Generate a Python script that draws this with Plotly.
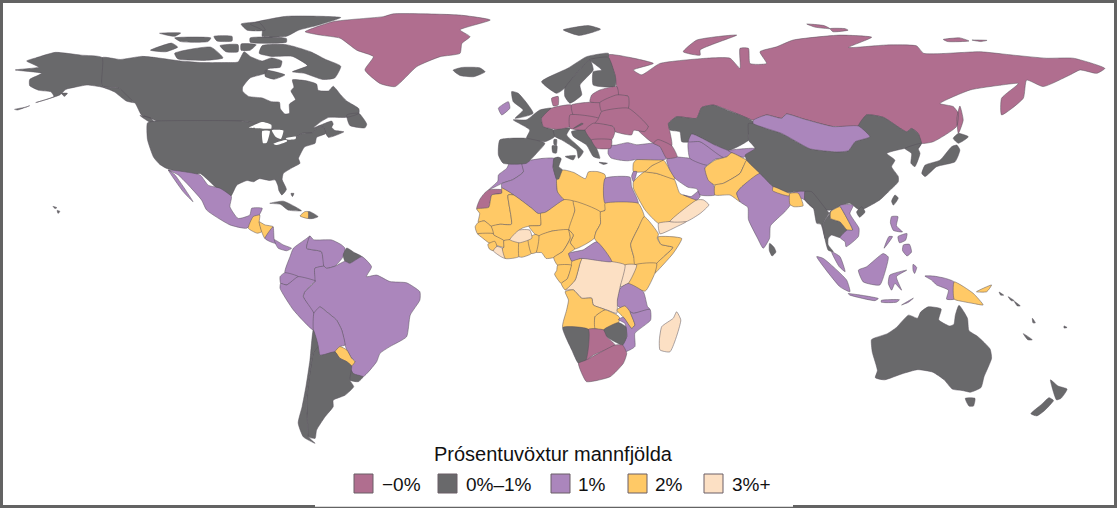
import plotly.graph_objects as go

# growth bins and their colours
BINS = ["−0%", "0%–1%", "1%", "2%", "3%+"]
BIN_COLORS = ["#B06E8F", "#69696B", "#AB86BC", "#FFC966", "#FCE0C4"]
LEGEND_TITLE = "Prósentuvöxtur mannfjölda"

# outlines are lon/lat, traced by hand (no topojson available offline)
RUSSIA = [
    [(26.6, 70.5), (34, 69.6), (41.5, 67.7), (34.9, 65.6), (37.6, 64), (43.7, 67.7), (59.2, 69.4), (66.9, 69.4), (70.2, 66.1),
     (70.2, 72.6), (73, 72.6), (73.5, 67.7), (79, 67.7), (76.8, 71.5), (82.3, 73.1), (87.8, 75.3), (103.3, 76.9), (113.8, 76.2),
     (106.1, 72.9), (118.8, 73.7), (128.7, 73.4), (131, 71), (149.7, 71.5), (160.7, 70.4), (171.7, 69.4), (180.6, 69.4), (191, 66.1),
     (188.3, 64.5), (182.8, 65.6), (179.5, 64), (170.6, 60.2), (165.1, 62.3), (164, 56.4), (156.8, 51), (156.8, 56.4), (162.4, 61.2),
     (156.8, 60.7), (146.4, 59.1), (136.4, 54.7), (140.8, 53.7), (142.5, 51.5), (141.9, 47.2), (134.2, 42.3), (130.3, 41.8),
     (129.2, 45), (127, 46.6), (125.4, 45.5), (117.7, 50.2), (112.1, 51), (109.4, 47.4), (101.1, 47.2), (91.2, 49.7), (85.6, 51.3),
     (84, 49.9), (79, 51), (74.6, 49.3), (70.2, 51), (61.4, 54.2), (57.5, 53.4), (55.8, 49.9), (49.2, 50.4), (46.5, 48.2), (47, 45.5),
     (47.6, 41), (41.5, 41.8), (38.7, 43.9), (36, 46.6), (39.8, 47.2), (33.2, 52.6), (33.2, 57), (29.9, 57.5), (29.4, 60),
     (29.1, 61.2), (28.8, 64)],
    [(51.4, 71.5), (55.9, 75.3), (69.1, 76.9), (57, 72.1), (57, 70.4)],
    [(92.3, 80.5), (98, 80), (100, 79), (95, 79.5)],
    [(100, 79), (105, 79), (106, 78.5), (101, 78)],
    [(137.5, 75.5), (143, 76), (146, 75), (139, 74.8)],
    [(147, 75.3), (152, 75.2), (150, 74.8)],
    [(143, 53.9), (144.1, 49.3), (142.5, 45), (142, 50)],
]
GREENLAND = [[(-73.8, 78), (-64.4, 81.3), (-47.9, 82.9), (-44.6, 83.8), (-22.5, 83.4), (-12.5, 81.8), (-22.5, 78.6), (-19.2, 76.4),
              (-21.9, 74.2), (-22.5, 71), (-29.1, 69.9), (-36.8, 66.7), (-44, 60.2), (-49, 61.2), (-54, 65.6), (-51.2, 69.9),
              (-56.7, 72), (-62.2, 75.9), (-68.8, 76.9)]]
CANADA = [
    [(-141, 69.6), (-135, 69), (-128, 70), (-124, 69.7), (-115, 68.5), (-108, 68), (-100, 68), (-96, 68.2), (-94, 71.5), (-92, 70),
     (-88, 68.5), (-85, 69.5), (-81.5, 68.5), (-82, 66.5), (-86, 66), (-87, 64.5), (-92, 63), (-94.5, 60), (-94.5, 58.7), (-92.5, 57),
     (-88, 56.5), (-85, 55.3), (-82.3, 55.1), (-82, 53), (-80.5, 51.3), (-79, 51.5), (-79, 54.5), (-77, 56), (-78.5, 58.8), (-77.5, 60),
     (-78, 62.4), (-73, 62), (-70, 61), (-69.5, 59), (-66, 58.8), (-64.5, 60.3), (-62, 57.5), (-60, 55.5), (-56, 53), (-56, 51.5),
     (-60, 50.2), (-66, 50.2), (-69, 48.5), (-71, 46.8), (-65, 49), (-64.5, 48), (-65, 47), (-64, 46), (-61, 45.5), (-66, 43.7),
     (-67, 45), (-67.8, 47), (-69.5, 47.3), (-71, 45.3), (-74.7, 45), (-76.5, 44), (-79, 43.3), (-83, 42), (-82.5, 45), (-84.5, 46.5),
     (-88.5, 48), (-95, 49), (-123, 49), (-125, 50), (-128, 51), (-130, 54.7), (-133, 57), (-135.5, 59.7), (-141, 60.3)],
    [(-60, 51), (-56, 51.5), (-53.4, 48), (-54, 46.8), (-59, 47.6)],
    [(-128.5, 50.8), (-125, 50), (-123.5, 48.4), (-125.5, 48.8)],
    [(-88, 73.5), (-80, 73.8), (-72, 71.5), (-67, 69), (-62, 66.8), (-64, 63), (-68, 62.5), (-74, 64.5), (-78, 65), (-73, 67),
     (-78, 70), (-85, 70), (-89, 71)],
    [(-117, 71), (-105, 73), (-101, 69.5), (-107, 68.7), (-116, 69.2)],
    [(-125, 72), (-118, 74.3), (-116, 73), (-120, 71.5)],
    [(-92, 80.5), (-80, 83), (-62, 82.6), (-70, 80), (-76, 78.5), (-80, 76.5), (-88, 76.5), (-88, 78.5)],
    [(-92, 76), (-80, 75.8), (-80, 74.6), (-92, 74.6)],
    [(-95, 80.5), (-89, 81), (-87, 78.5), (-93, 78.5)],
    [(-117, 76), (-105, 76), (-106, 74.8), (-115, 74.8)],
    [(-102, 73.5), (-96, 73.8), (-96, 71.5), (-100, 71.5)],
    [(-95, 74), (-90, 73.8), (-92, 72), (-95, 72)],
    [(-87, 65.5), (-80.5, 64), (-84, 62.6), (-87, 63.5)],
    [(-104, 76.5), (-98, 76.5), (-98, 75), (-103, 75)],
    [(-122, 77.5), (-115, 77.6), (-117, 76.5)],
]
USA = [
    [(-126, 48.4), (-123, 49), (-95, 49), (-88.5, 48), (-84.5, 46.5), (-82.5, 45), (-83, 42), (-79, 43.3), (-76.5, 44), (-74.7, 45),
     (-71, 45.3), (-69.5, 47.3), (-67.8, 47), (-67, 45), (-70, 43.7), (-70.5, 41.8), (-74, 40.6), (-75.5, 38), (-76, 36.9),
     (-75.5, 35.3), (-78, 33.9), (-81, 32), (-81.4, 30), (-80, 26.8), (-81.5, 25), (-82.5, 26.5), (-82.8, 28), (-83.7, 29.9),
     (-85.5, 29.7), (-89, 30.3), (-90.9, 29.3), (-93, 29.7), (-96.4, 28.2), (-98.6, 24.4), (-103, 27.2), (-108.6, 32), (-110.8, 31.5),
     (-119.6, 33.6), (-122, 35), (-124, 37.3), (-126, 43)],
    [(-141, 69.6), (-148, 70.4), (-156.5, 71.3), (-163, 69.5), (-166, 68.5), (-162, 66.5), (-169.8, 65.6), (-161, 64.5), (-165, 62.5),
     (-165, 60.5), (-162, 59), (-158, 58.5), (-157, 57), (-163, 55), (-155, 57.5), (-153, 59.3), (-150, 60), (-146, 60.7), (-141, 60),
     (-137, 58.5), (-133, 55.5), (-130.5, 55), (-133, 57.5), (-135.5, 59.7), (-141, 60.3)],
    [(-170, 52.8), (-166, 53.6), (-165, 54), (-169, 52.6)],
    [(-154.5, 58), (-152.5, 58), (-153.5, 57)],
    [(-155.9, 20), (-155, 19.7), (-155.6, 19)],
    [(-157.3, 21.3), (-156, 20.9), (-156.6, 20.6)],
]
MEXICO = [
    [(-119.1, 33.1), (-108.6, 31.5), (-105.9, 28.2), (-102, 27.2), (-98.2, 24.5), (-98.7, 21.2), (-96, 17.4), (-92.1, 18.5),
     (-91.5, 20.7), (-88, 20.7), (-89.3, 18), (-91, 16.5), (-93.2, 14.2), (-98.7, 15.3), (-106.4, 20.1), (-108.1, 23.4), (-115.8, 31.5)],
    [(-119.1, 33.1), (-116.9, 31.5), (-110.9, 22.8), (-114.2, 26.1)],
]
COUNTRY_RINGS = {
    "Russia": RUSSIA,
    "Greenland": GREENLAND,
    "Canada": CANADA,
    "USA": USA,
    "Mexico": MEXICO,
    "Guatemala": [[(-92.6, 14.2), (-91, 18), (-88.8, 18.5), (-89, 16.3), (-88.2, 13.1), (-89.7, 12.6)]],
    "Honduras": [[(-89, 16.3), (-87.1, 15.3), (-84.4, 14.7), (-87.1, 10.9), (-88.2, 13.1)]],
    "Costa Rica": [[(-87.1, 10.9), (-84.4, 14.7), (-84, 10.5), (-82.7, 9), (-85.5, 9.9)]],
    "Panama": [[(-84, 10.5), (-81, 8.8), (-78.3, 7.7), (-79.9, 6.9), (-82.7, 7.7), (-83.5, 9)]],
    "Cuba": [[(-85.5, 22.3), (-81, 23), (-75, 19.9), (-79.4, 20.1), (-82, 22)]],
    "Bahamas": [[(-78.5, 25.5), (-77.5, 25.5), (-78, 24.5)]],
    "Dominican Republic": [[(-72.8, 17.4), (-72.8, 19.6), (-72.2, 19.6), (-69.5, 18), (-71, 17.4)]],
    "Haiti": [[(-75.5, 18.2), (-73.9, 19.6), (-72.8, 19.6), (-72.8, 17.4)]],
    "Colombia": [[(-80.5, -0.2), (-78.8, 5), (-77.7, 7.7), (-73.3, 10.9), (-72.2, 11.7), (-73.3, 7.7), (-68.4, 6.6), (-67.6, 1.9),
                  (-70.6, 1.2), (-70.3, -2.9), (-76.1, -1.5)]],
    "Venezuela": [[(-72.2, 11.7), (-71, 10.5), (-65, 10.4), (-61.7, 8.8), (-60.6, 7.7), (-61.2, 5), (-63.9, 1.9), (-66.7, 1.2),
                   (-67.6, 1.9), (-68.4, 6.6), (-73.3, 7.7)]],
    "Guyana": [[(-60, 7.8), (-57.5, 6.3), (-55, 5), (-59, 2.8), (-60.6, 3.5), (-61.2, 5.5)]],
    "Brazil": [[(-70.6, -3.1), (-70.6, 1.2), (-67.6, 1.9), (-66.7, 1.2), (-63.9, 1.9), (-60.6, 3.5), (-59, 2.8), (-55, 5), (-51.8, 1.7),
                (-53.5, -1.5), (-50.1, -1), (-45.7, -3.1), (-40.2, -3.5), (-35.8, -6.4), (-35.8, -9.1), (-39, -14), (-40.2, -21),
                (-45.7, -24.2), (-49, -26.4), (-50.1, -29.1), (-54.6, -34), (-57.8, -33), (-59.3, -30.5), (-57.3, -29.1), (-58.4, -28),
                (-60, -25.3), (-60.6, -23.7), (-61.7, -18.8), (-63.4, -15.6), (-66.7, -12.9), (-68.9, -11.3), (-70.9, -13.4),
                (-74.4, -8), (-73.9, -6.4)]],
    "Ecuador": [[(-82.1, -1.5), (-80.5, -0.2), (-76.1, -1.5), (-79.9, -4.2), (-81.9, -3.7)]],
    "Peru": [[(-82.1, -5.3), (-81.9, -3.7), (-79.9, -4.2), (-76.1, -1.5), (-70.3, -2.9), (-70.6, -3.1), (-73.9, -6.4), (-74.4, -8),
              (-70.9, -13.4), (-71.1, -18.8), (-77.7, -12.3)]],
    "Bolivia": [[(-71.1, -18.8), (-70.9, -13.4), (-68.9, -11.3), (-66.7, -12.9), (-63.4, -15.6), (-61.7, -18.8), (-60.6, -23.7),
                 (-62.3, -24.2), (-63.9, -25.9), (-68.9, -27), (-69.5, -24.2)]],
    "Paraguay": [[(-63.9, -25.9), (-62.3, -24.2), (-60, -25.3), (-58.4, -28), (-57.3, -29.1), (-58.4, -30.5), (-60, -29.1), (-62.3, -28)]],
    "Uruguay": [[(-59.3, -30.7), (-57.8, -33), (-54.6, -34), (-56.2, -35.6), (-59, -35.1)]],
    "Argentina": [[(-69.5, -24.2), (-68.9, -27), (-63.9, -25.9), (-62.3, -28), (-60, -29.1), (-58.4, -30.5), (-59, -35.1), (-57.7, -37.2),
                   (-60.6, -40), (-64.5, -41.6), (-64.5, -43.7), (-67.2, -47), (-70, -51.3), (-70.5, -54), (-72.7, -53.5), (-73, -49),
                   (-73.3, -41.6), (-72.4, -34), (-71, -26)]],
    "Chile": [[(-71.1, -18.8), (-69.5, -24.2), (-71, -26), (-72.4, -34), (-73.3, -41.6), (-73, -49), (-72.7, -53.5), (-70.5, -55.6),
               (-74.4, -53.5), (-76.1, -49), (-74.8, -43.7), (-73.5, -37), (-72.2, -28.6)]],
    "Morocco": [[(-5.9, 35.8), (-2, 35.1), (-1.5, 32.5), (-5, 30), (-8.7, 28.7), (-13, 26.7), (-10, 29.5), (-9.8, 31.5), (-7, 33.7)]],
    "Western Sahara": [[(-13, 26.7), (-8.7, 26.7), (-8.7, 25.6), (-12, 25), (-13, 21), (-17, 20.5), (-16, 23.5), (-14.5, 25.5)]],
    "Algeria": [[(-2, 35.1), (1, 36.3), (5, 36.9), (8.6, 36.9), (8.3, 34), (9.5, 30), (9.8, 26), (12, 23.5), (5.8, 19.4), (3.3, 19),
                 (1.2, 20.7), (-4.8, 25), (-8.7, 27.3), (-8.7, 28.7), (-5, 30), (-1.5, 32.5)]],
    "Tunisia": [[(8.6, 36.9), (10, 37.3), (11, 36.8), (10.2, 34.2), (11.5, 33.1), (10.2, 30.2), (9.5, 30), (8.3, 34)]],
    "Libya": [[(11.5, 33.1), (15.2, 32.3), (19, 30.3), (20, 32.5), (23, 32.6), (25.5, 31.6), (25.5, 20), (24, 19.5), (15, 23), (12, 23.5),
               (9.8, 26), (9.5, 30), (10.2, 30.2)]],
    "Egypt": [[(25.5, 30.4), (33.8, 30.8), (34.3, 27.7), (36.5, 22.3), (25.5, 22.3)]],
    "Mauritania": [[(-17, 20.5), (-13, 21), (-12, 25), (-8.7, 25.6), (-8.7, 27.3), (-4.8, 25), (-6.6, 25), (-5.5, 15.5), (-9.3, 15.5),
                    (-12.2, 14.8), (-14.5, 16.6), (-16.5, 16.1), (-16, 19)]],
    "Mali": [[(-4.8, 25), (1.2, 20.7), (3.3, 19), (4.2, 19), (4.2, 15.2), (0.3, 14.9), (-2, 14.2), (-3, 13.5), (-5.5, 10.5), (-8, 10.2),
              (-11.3, 12), (-12.2, 14.8), (-9.3, 15.5), (-5.5, 15.5), (-6.6, 25)]],
    "Niger": [[(12, 23.5), (15, 23), (15.5, 20), (13.5, 13.7), (8, 13.3), (3.6, 11.7), (2.4, 12.2), (0.3, 14.9), (4.2, 15.2), (4.2, 19),
               (5.8, 19.4)]],
    "Chad": [[(15, 23), (24, 19.5), (24, 15.7), (22.5, 13), (22, 11), (19, 9), (15.5, 7.5), (14, 9.5), (15, 12), (13.5, 13.7), (15.5, 20)]],
    "Sudan": [[(24, 19.5), (25.5, 20), (25.5, 22.3), (36.5, 22.3), (38.5, 18), (36.5, 14.3), (34, 9), (35, 5), (36, 2.3), (30.5, 2.3),
               (27.7, 3.4), (22.8, 9.8), (22, 11), (22.5, 13), (24, 15.7)]],
    "Ethiopia": [[(36.5, 14.3), (38.5, 18), (43.2, 12.3), (42.8, 11), (44, 9), (48, 8), (45, 5), (42.6, 2.8), (35.4, 2.3), (35, 5), (34, 9)]],
    "Somalia": [[(43, 11.4), (50.9, 10.9), (48.1, 6.1), (42.6, 0.1), (42, -0.4), (42.6, 2.8), (45, 5), (48, 8), (44, 9)]],
    "Kenya": [[(35.4, 2.3), (42.6, 2.8), (42, -0.4), (38.8, -6.2), (33.2, -3.7)]],
    "Uganda": [[(32.1, 2.3), (36, 2.3), (33.2, -3.7), (30.5, -4.8)]],
    "Tanzania": [[(33.2, -3.7), (38.2, -6.4), (39.6, -11.3), (40.4, -12.1), (34.9, -13.4), (29.4, -10.7), (30.5, -5.3)]],
    "Congo DR": [[(17.8, 4.4), (27.7, 3.4), (32.1, 2.3), (30.5, -4.8), (29.6, -9.1), (29.4, -13.4), (26.1, -12.3), (21.6, -10.7), (21.1, -8.5),
                  (17.8, -8.5), (15, -5.8), (12.3, -5.8), (15.6, -2.6), (17.2, 2.8)]],
    "Central African Republic": [[(13.4, 6), (14.5, 3.4), (17.8, 4.4), (27.7, 3.4), (22.8, 9.8), (18.3, 7.2)]],
    "Angola": [[(12.3, -6.4), (15, -5.8), (17.8, -8.5), (21.1, -8.5), (21.6, -10.7), (25.5, -12.3), (22.2, -14.5), (22.2, -18.3), (11.5, -18),
                (12.8, -12.3), (13.4, -9.1)]],
    "Zambia": [[(22.2, -14.5), (25.5, -12.3), (29.2, -13.8), (30.3, -14.7), (29.9, -16.7), (25, -18.8), (22.2, -18.3)]],
    "Malawi": [[(29.4, -12.3), (32.1, -11), (33.8, -12.9), (35.4, -17.2), (34.3, -18.3), (31.6, -14.7)]],
    "Mozambique": [[(34.9, -13.4), (40.4, -12.1), (40.6, -15.6), (35.4, -19.9), (35.4, -24.2), (32.1, -25.9), (31.3, -23.7), (32.7, -21),
                    (32.1, -16.7), (29.9, -15.4), (31.6, -14.7), (34.3, -18.3), (35.4, -17.2), (33.8, -12.9)]],
    "Zimbabwe": [[(25, -18.8), (29.9, -16.4), (32.4, -17.8), (32.7, -21), (31.3, -23.7), (26.1, -21)]],
    "Botswana": [[(20, -18.6), (25, -18.8), (26.1, -21), (28.8, -23.7), (21.6, -27), (19.2, -28.6)]],
    "Namibia": [[(11.5, -18), (20, -18.6), (19.2, -28.6), (16.7, -29.6), (14.5, -25.3)]],
    "South Africa": [[(16.7, -29.6), (19.2, -28.6), (28.8, -23.7), (31.3, -23.7), (32.7, -26.4), (31.6, -29.6), (27.2, -34), (19.4, -35.6), (17.8, -32.9)]],
    "Madagascar": [[(49.2, -12.9), (50.6, -15.6), (47, -25.9), (43.7, -25.3), (43.5, -22), (44.3, -17.7), (48.1, -15)]],
    "Nigeria": [[(2.7, 6.4), (3.6, 11.7), (8, 13.3), (13.5, 13.7), (14, 11), (11.5, 6.7), (8.5, 4.7), (6, 4.4), (4.5, 6.3)]],
    "Cameroon": [[(8.5, 4.7), (11.5, 6.7), (14, 11), (13.5, 13.7), (15, 12), (14, 9.5), (15.5, 7.5), (13.4, 6), (14.5, 3.4), (16, 2.2), (9.8, 2.2)]],
    "Gabon": [[(9.8, 2.2), (14.4, 2.2), (13, -2.2), (11, -3.7), (8.8, -0.7), (9.5, 0.5)]],
    "Congo": [[(14.5, 3.4), (17.8, 4.4), (17.2, 2.8), (15.6, -2.6), (12.3, -5.8), (11, -3.7), (13, -2.2), (14.4, 2.2)]],
    "Senegal": [[(-17.5, 14.7), (-16.5, 16.1), (-14.5, 16.6), (-12.2, 14.8), (-11.5, 12.5), (-16.7, 12.4)]],
    "Guinea": [[(-16.7, 12.4), (-11.5, 12.5), (-11.3, 12), (-8, 10.2), (-8, 8), (-10, 8.5), (-13, 9.5), (-15, 11)]],
    "Sierra Leone": [[(-13.3, 9), (-11, 10), (-10.3, 8.3), (-11.5, 6.9), (-12.8, 7.5)]],
    "Liberia": [[(-11.5, 6.9), (-10.3, 8.3), (-8.5, 7.7), (-7.5, 4.4), (-9, 5)]],
    "Ivory Coast": [[(-8, 10.2), (-5.5, 10.5), (-2.8, 9.5), (-3, 5), (-7.5, 4.4), (-8.5, 7.7), (-8, 8)]],
    "Ghana": [[(-2.8, 11), (0, 11), (1.1, 6), (-2, 4.8), (-3, 5)]],
    "Togo and Benin": [[(0, 11), (2.4, 12.2), (3.6, 11.7), (2.7, 6.4), (1.1, 6)]],
    "Burkina Faso": [[(-6, 10.5), (-3, 13.6), (0.6, 13.6), (1.3, 11), (-2.8, 9.5)]],
    "Saudi Arabia": [[(34.9, 29.3), (38.7, 32.6), (42.6, 32), (48.4, 30.1), (50.3, 25.5), (55.9, 23.4), (47, 16.4), (43.2, 15.8), (38.8, 20.1), (34.9, 27.2)]],
    "Yemen": [[(43.2, 15.8), (47, 16.4), (52.5, 16.4), (49.2, 14.7), (43.7, 12.4)]],
    "Oman": [[(47, 16.4), (55.9, 23.4), (58.1, 23.4), (59.9, 21.8), (57, 19), (52.5, 16.4)]],
    "UAE": [[(51.5, 25), (54, 24.5), (56.5, 26.3), (57, 24.5), (55.9, 23.4)]],
    "Iraq": [[(38.7, 32.6), (42.6, 32), (48.4, 30.1), (48.7, 30.4), (47, 33.1), (44.8, 36.4), (41, 34.5)]],
    "Syria": [[(34.9, 32.6), (34.9, 35.3), (36, 36.5), (44.8, 36.4), (41, 34.5), (38.7, 32.6)]],
    "Israel": [[(34.3, 31), (34.9, 32.6), (36, 32.6), (35.5, 30.5), (34.9, 29.3)]],
    "Turkey": [[(26.6, 40), (26.5, 38.5), (27.5, 37), (30.5, 36.3), (33, 36.1), (36, 36.5), (44.8, 36.4), (45.9, 36.9), (43.7, 40.7), (41.5, 41.8),
                (36, 41.3), (33, 42), (29, 41.2), (27, 41)]],
    "Iran": [[(45.9, 36.4), (47.6, 38), (49.4, 37.4), (53.6, 36.9), (59.2, 34.7), (58.6, 33.7), (61.9, 27.2), (61.9, 25), (57, 25), (55.9, 27),
              (53, 27.5), (48.7, 30.4), (47, 33.1)]],
    "Kazakhstan": [[(46.5, 48.2), (49.2, 50.4), (55.8, 49.9), (57.5, 53.4), (61.4, 54.2), (65.8, 52.6), (70.2, 51), (74.6, 48.8), (73, 44.4), (73, 42.8),
                    (66.3, 39.4), (61.9, 41.2), (54.2, 44.8), (53.6, 42.3), (50.9, 42.3), (50.3, 45.5), (47, 46.1)]],
    "Turkmenistan": [[(53.1, 42.3), (57, 42.3), (64.7, 37.2), (61.9, 36.6), (59.2, 34.7), (53.6, 36.9)]],
    "Uzbekistan": [[(54.2, 44.8), (61.9, 41.2), (66.3, 39.4), (68, 38.5), (64.7, 37.2), (57, 42.3), (53.1, 42.3)]],
    "Kyrgyzstan and Tajikistan": [[(66.3, 39.4), (75.2, 40.1), (71.3, 37.2), (68, 38.5)]],
    "Afghanistan": [[(58.6, 33.7), (61.9, 36.3), (65.8, 37.4), (67.4, 38.7), (71.3, 36.9), (72.4, 36.3), (71.3, 34.2), (70.2, 32), (64.7, 28.8),
                     (61.9, 28.2), (59.7, 29.8)]],
    "Pakistan": [[(61.9, 28.2), (64.7, 28.8), (70.2, 32), (71.3, 34.2), (72.4, 36.3), (76.8, 32), (70.8, 27.7), (69.1, 25.6), (70.2, 22.8),
                  (66.9, 25), (61.9, 25)]],
    "India": [[(70.2, 22.8), (69.1, 25.6), (70.8, 27.7), (76.8, 32), (81.2, 27.7), (86.2, 25), (88.4, 26.1), (91.7, 26.6), (91.7, 23.4),
               (90.6, 23.9), (88, 24), (86.7, 21.5), (85, 19.5), (80.3, 15), (80, 11), (77.9, 7.7), (76, 11), (73, 17), (72.8, 21)]],
    "China": [[(73, 48.2), (74.6, 48.2), (79, 46.6), (84, 45), (89, 42.3), (93.4, 40), (102.2, 39), (106.1, 39.4), (108.3, 42.3), (113.2, 43.9),
               (109.4, 47.4), (112.1, 51), (117.7, 50.2), (125.4, 45.5), (127, 46.6), (129.2, 45), (130.3, 41.8), (129.2, 40.1),
               (124.8, 40.1), (118.8, 38.5), (121.5, 36.3), (120.4, 34.2), (122.6, 31), (122.6, 29.3), (119.3, 26), (116.5, 23.4),
               (109.9, 20.1), (106.6, 22.3), (103.8, 21.7), (100.5, 20.1), (94.5, 20.7), (91.7, 23.4), (91.7, 26.1), (88.4, 26.1),
               (86.2, 25.7), (81.2, 27.7), (76.8, 32), (72.4, 36.3), (71.9, 38), (75.2, 40.1), (73, 42.8), (73, 44.4)]],
    "Nepal": [[(81.2, 27.7), (86.2, 25.7), (87.5, 25.5), (86.2, 24.7), (81, 26.4)]],
    "Bangladesh": [[(86.7, 25.5), (89.5, 25.6), (91.1, 21.5), (88, 21.2), (86.7, 22)]],
    "Mongolia": [[(74.6, 49.3), (79, 51), (84, 49.9), (85.6, 51.3), (91.2, 49.7), (101.1, 47.2), (109.4, 47.4), (113.2, 43.9), (108.3, 42.3),
                  (106.1, 39.4), (102.2, 39), (93.4, 40), (89, 42.3), (84, 45), (79, 46.6), (74.6, 48.2)]],
    "Korea": [[(130.3, 41.8), (129.2, 40.1), (129.8, 38.5), (128.1, 34.2), (126.8, 35.3), (127, 38.5), (124.8, 40.1)]],
    "Japan": [[(142.5, 45), (145.8, 43.9), (142.5, 41.8), (140.8, 43.4)],
              [(142, 41.2), (143, 39.6), (141.4, 35.8), (135.3, 34.2), (131.5, 31), (130.4, 32), (131.5, 34.7), (136.4, 36.3), (140.3, 40.7)]],
    "Taiwan": [[(121.5, 25), (122.6, 24), (121, 21.7), (120.4, 23)]],
    "Hainan": [[(108.8, 19.5), (110.5, 21.2), (111.6, 19.5), (109.8, 17.8)]],
    "Sri Lanka": [[(80, 9.3), (81.5, 8), (82.1, 6.5), (80.8, 5.2), (79.9, 7)]],
    "Myanmar": [[(91.7, 26.1), (93.9, 26.1), (100, 19), (100.5, 20.1), (97.8, 15.8), (98.3, 10.9), (97, 15.5), (95.6, 15.8), (94.5, 20.7), (91.7, 23.4)]],
    "Thailand": [[(100.5, 19.6), (100.2, 17.4), (103.3, 16.3), (105.7, 13.6), (103.3, 11.2), (100.5, 12), (99.4, 10.9), (99.4, 8.8), (101.1, 6.6),
                  (99.4, 7.1), (98.3, 10.9), (97.8, 15.8), (100, 19)]],
    "Laos and Cambodia": [[(103.3, 21.2), (104.4, 19.6), (107.5, 13.6), (105.7, 13.6), (103.3, 16.3), (100.2, 17.4), (100.2, 19.6)]],
    "Vietnam": [[(103.3, 21.7), (107.7, 21.7), (106.6, 19), (109.6, 14.2), (109.4, 11.5), (105.3, 8.2), (105, 9.8), (103.3, 11.2), (105.7, 13.6),
                 (107.5, 13.6), (104.4, 19.6)]],
    "Malaysia": [[(100.5, 6.6), (103.3, 5), (105, 0.1), (103, 1.8)]],
    "Indonesia": [[(95.6, 5), (97.8, 4.4), (105.5, -2.6), (106.6, -6.4), (103.3, -4.8)],
                  [(106, -7), (116, -8.6), (114.9, -9.3), (106.6, -7.5)],
                  [(109.4, 0.6), (112.1, 1.7), (117.6, 6), (119.3, 4.9), (118.7, 1.7), (116.5, -4.2), (111, -3.2)],
                  [(119.8, -1), (125.4, 0.6), (122, -1.5), (123.7, -5.9), (121.5, -3.7), (120.4, -5.9), (119.3, -3.7)],
                  [(117, -9.2), (123, -9), (122, -9.8), (117, -9.8)],
                  [(123.7, -10.7), (127.6, -8.5), (126, -9.8)],
                  [(127.5, 2.5), (128.7, 1.5), (128, -0.5), (127.5, 0.5)],
                  [(131.4, -1.3), (134.2, -1.3), (138, -2), (141.1, -3.2), (141.1, -8.8), (138.6, -8.8), (139.2, -5.9), (135.3, -4.2), (133.6, -2.6)]],
    "Papua New Guinea": [[(141.1, -3.2), (147.4, -6.9), (150.7, -10.7), (147.4, -10.2), (144.1, -9.6), (141.1, -8.8)],
                         [(148.5, -6.4), (153.5, -4.2), (151.9, -6.4)]],
    "Philippines": [[(120.4, 18), (122.5, 18), (122, 15), (124, 13), (121, 13.5), (120, 16)],
                    [(124.3, 8.8), (126.3, 9), (127, 6.5), (125.5, 5.2), (124, 7)],
                    [(122.5, 11.5), (125.5, 12.5), (125, 10.3), (123, 9.5)],
                    [(117.9, 7.7), (120.7, 11.5), (119.5, 11.5)]],
    "Australia": [[(113.7, -22), (114, -26), (115.7, -32), (115, -34.3), (118, -35), (124, -33), (129, -31.7), (134, -32.5), (137.8, -35),
                   (140.5, -38), (144, -38.5), (146.5, -39), (150, -37.5), (151, -34), (153.5, -28), (153, -25), (149, -21), (146, -19),
                   (145.5, -15), (142.7, -10.8), (141.5, -14), (141, -17), (139.5, -17.5), (136, -15.5), (136.8, -12), (132.5, -11.3),
                   (130, -13), (129, -15), (126, -14), (122, -18), (119, -20), (114.5, -21.5)],
                  [(144.8, -41), (148, -41), (147.5, -43.5), (146, -43.5)]],
    "New Zealand": [[(173, -35), (175.5, -37), (178.5, -38), (176.5, -41), (175, -41.5), (174, -39)],
                    [(172.5, -40.8), (174, -41.7), (171, -45), (168.5, -46.7), (166.5, -46), (170, -43)]],
    "Pacific islands": [[(156, -6.5), (157.5, -7.5), (156.5, -7.5)], [(159, -8), (161, -9.3), (160, -9.3)], [(161, -9.5), (163, -11), (162, -11)],
                        [(164, -20), (167, -22), (165.5, -22)], [(167, -15), (168, -16.5), (167.2, -16.5)], [(177.5, -17.5), (178.5, -18), (177.5, -18.2)]],
    "Iceland": [[(-24.8, 65.5), (-22, 66.4), (-16, 66.3), (-14.2, 65), (-18, 63.4), (-22.5, 63.8)]],
    "Svalbard": [[(11.7, 78.6), (20, 80), (24, 78.8), (17, 76.8)]],
    "Norway": [[(4.5, 61.8), (13.3, 66.2), (19.4, 69.9), (26.6, 71), (26.6, 69.7), (20.5, 68.9), (16.1, 64.5), (12.2, 59.7), (9.5, 58)]],
    "Sweden": [[(12.2, 59.7), (16.1, 64.5), (20.5, 68.9), (21.6, 65.6), (17.2, 60.7), (17.8, 57.5), (13.9, 54.8), (12.2, 57)]],
    "Finland": [[(20.5, 68.9), (26.6, 69.7), (28.8, 64), (29.1, 62.4), (28.8, 60.2), (21.6, 60.7), (21.6, 65), (24.4, 65.6)]],
    "UK": [[(-5.4, 58.6), (-3.2, 58), (1.7, 51.5), (-4.3, 49.9), (-1.6, 52.6), (-4.9, 55.3)]],
    "Ireland": [[(-9.8, 53.2), (-6.5, 55.3), (-6, 53.2), (-8.7, 51)]],
    "France": [[(4.5, 49.9), (5.1, 47.2), (8.4, 46.1), (8.9, 44), (5.6, 42.3), (-0.5, 43.4), (0.6, 46.1), (-4.9, 49.4), (-0.5, 49.4), (3.9, 52.6), (7.8, 53.2)]],
    "Spain": [[(-9.3, 42.9), (-0.5, 43.4), (5.6, 41.8), (2.9, 38.6), (-0.5, 35.3), (-8.2, 35.3), (-9.8, 38)]],
    "Italy": [[(8.4, 46.1), (13.9, 46.7), (12.8, 44.5), (18.3, 39.1), (16.7, 36.9), (16.1, 39.6), (11.1, 42.9), (8.9, 44)],
              [(12.3, 37.5), (15.7, 37.8), (15, 36.4)], [(8, 41), (9.6, 41), (9.4, 38.6), (8.2, 38.8)], [(8.6, 43), (9.5, 43), (9.4, 41.2), (8.6, 41.4)]],
    "Balkans": [[(14.4, 45.6), (18.9, 46.1), (21, 42.9), (22.7, 40.2), (23.8, 36.9), (21.6, 37.5), (19.4, 41.2), (15, 44)], [(23.5, 35.6), (26.3, 35.3), (25, 34.9)]],
    "Germany": [[(4.5, 49.9), (7.8, 53.2), (14.4, 54.2), (15, 51), (13.9, 47.2), (9.5, 46.3), (5.1, 47.2)]],
    "Denmark": [[(7.8, 56.4), (10, 57), (10, 54.2), (8.4, 53.9)]],
    "Poland": [[(14.4, 54.2), (23.8, 55), (24.4, 52.1), (23.3, 49.9), (15, 51)]],
    "Baltics": [[(20.5, 55.3), (21.1, 57.5), (23.8, 59.1), (29.4, 60.2), (29.9, 57.5), (23.8, 55)]],
    "Belarus": [[(23.8, 55), (29.4, 57.5), (33.2, 57), (33.2, 53.2), (24.4, 52.1)]],
    "Ukraine": [[(23.3, 49.9), (24.4, 52.1), (33.2, 53.2), (39.8, 47.2), (38.7, 45.6), (35, 46), (34.3, 44.5), (28.8, 45.6), (28.2, 47.2), (21.6, 48.3)]],
    "Austria": [[(13.9, 51), (23.3, 49.9), (21.6, 47.8), (18.9, 46.1), (13.9, 46.7)]],
    "Hungary": [[(15, 46.6), (17.8, 48.3), (18.3, 48.1), (16.1, 47)]],
    "Romania": [[(18.9, 46.1), (21.6, 48.3), (28.2, 47.2), (28.8, 45.6), (27.7, 42.9), (21, 42.9)]],
    "Bulgaria": [[(21, 42.9), (27.7, 42.9), (27.4, 40.2), (22.7, 40.2)]],
    "Caucasus": [[(41.5, 41.8), (43.7, 40.7), (45.9, 36.9), (49.4, 37.4), (47.6, 41), (43, 43)]],
}
COUNTRY_BIN = {
    "−0%": ["Russia", "Greenland", "Western Sahara", "Botswana", "South Africa", "Germany", "Denmark", "Poland", "Baltics", "Belarus",
            "Ukraine", "Austria", "Romania", "Bulgaria", "Caucasus"],
    "0%–1%": ["Canada", "USA", "Cuba", "Bahamas", "Dominican Republic", "Guyana", "Uruguay", "Argentina", "Chile", "Tunisia", "Namibia",
              "Zimbabwe", "Kazakhstan", "China", "Korea", "Japan", "Taiwan", "Hainan", "Sri Lanka", "Myanmar", "Thailand", "Australia",
              "New Zealand", "Iceland", "Svalbard", "Norway", "Sweden", "Finland", "UK", "France", "Spain", "Italy", "Balkans", "Hungary",
              "Pacific islands"],
    "1%": ["Mexico", "Costa Rica", "Panama", "Colombia", "Venezuela", "Brazil", "Ecuador", "Peru", "Bolivia",
           "Morocco", "Algeria", "Egypt", "Tanzania", "Central African Republic", "Mozambique", "UAE", "Israel", "Turkey", "Iran",
           "Turkmenistan", "Uzbekistan", "Kyrgyzstan and Tajikistan", "India", "Mongolia", "Vietnam", "Malaysia", "Indonesia", "Philippines",
           "Ireland"],
    "2%": ["Guatemala", "Honduras", "Haiti", "Paraguay", "Libya", "Mauritania", "Mali", "Niger", "Chad", "Sudan", "Ethiopia",
           "Somalia", "Kenya", "Angola", "Zambia", "Malawi", "Nigeria", "Cameroon", "Gabon", "Congo", "Senegal", "Guinea", "Sierra Leone",
           "Ivory Coast", "Ghana", "Togo and Benin", "Saudi Arabia", "Iraq", "Syria", "Afghanistan", "Pakistan", "Nepal", "Bangladesh",
           "Laos and Cambodia", "Papua New Guinea"],
    "3%+": ["Uganda", "Congo DR", "Madagascar", "Liberia", "Burkina Faso", "Yemen", "Oman"],
}
GREAT_LAKES = [
    [(-92.5, 46.8), (-88, 48.7), (-85, 47.8), (-85, 46.6), (-90, 46.7)],
    [(-88, 45.8), (-85.5, 45.8), (-86.5, 42), (-87.7, 41.8)],
    [(-84.8, 46), (-81, 45.9), (-81.8, 43.2), (-83.5, 43.8)],
    [(-84.3, 41.6), (-80, 42.9), (-79.8, 42.4), (-83.5, 41.2)],
    [(-80.2, 43.5), (-76.8, 44), (-77, 43.2), (-79.8, 43)],
]

W, H = 1117, 508
color_of = {}
for bin_name, color in zip(BINS, BIN_COLORS):
    for name in COUNTRY_BIN[bin_name]:
        color_of[name] = color

fig = go.Figure()
for name, rings in COUNTRY_RINGS.items():
    xs, ys = [], []
    for ring in rings:
        xs += [p[0] for p in ring] + [ring[0][0], None]
        ys += [p[1] for p in ring] + [ring[0][1], None]
    fig.add_trace(go.Scatter(x=xs, y=ys, mode="lines", fill="toself", fillcolor=color_of[name], name=name,
                             line=dict(color="#57505a", width=0.5, shape="spline", smoothing=0.5), hoverinfo="name", showlegend=False))
for ring in GREAT_LAKES:
    fig.add_trace(go.Scatter(x=[p[0] for p in ring] + [ring[0][0]], y=[p[1] for p in ring] + [ring[0][1]], mode="lines", fill="toself",
                             fillcolor="white", line=dict(color="white", width=0, shape="spline", smoothing=0.5), hoverinfo="skip", showlegend=False))


def px(x):
    return x / W


def py(y):
    return 1 - y / H


shapes = [
    dict(type="rect", xref="paper", yref="paper", x0=px(1.5), x1=px(W - 1.5), y0=py(H - 1.5), y1=py(1.5),
         line=dict(color="#636363", width=3), fillcolor="rgba(0,0,0,0)", layer="above"),
    dict(type="rect", xref="paper", yref="paper", x0=px(315), x1=px(793), y0=py(506.8), y1=py(449),
         line=dict(width=0), fillcolor="white", layer="above"),
]
annotations = [dict(text=LEGEND_TITLE, xref="paper", yref="paper", x=px(553), y=py(454), showarrow=False, xanchor="center",
                    yanchor="middle", font=dict(family="Liberation Sans", size=20, color="#111111"))]
swatch_left = [354, 438, 551, 628, 704]
label_left = [382, 466, 578, 655, 732]
for i, bin_name in enumerate(BINS):
    shapes.append(dict(type="rect", xref="paper", yref="paper", x0=px(swatch_left[i]), x1=px(swatch_left[i] + 19), y0=py(493), y1=py(474),
                       line=dict(color="#6b5f66", width=1), fillcolor=BIN_COLORS[i], layer="above"))
    annotations.append(dict(text=bin_name, xref="paper", yref="paper", x=px(label_left[i]), y=py(484), showarrow=False, xanchor="left",
                            yanchor="middle", xshift=-2, font=dict(family="Liberation Sans", size=19, color="#111111")))

fig.update_layout(
    width=W, height=H, margin=dict(l=0, r=0, t=0, b=0), paper_bgcolor="white", plot_bgcolor="white", showlegend=False,
    xaxis=dict(range=[-174.83, 195.03], visible=False, fixedrange=True),
    yaxis=dict(range=[-76.6, 88.3], visible=False, fixedrange=True),
    shapes=shapes, annotations=annotations,
)
fig.write_html("out.html", config=dict(displayModeBar=False), post_script="document.body.style.margin='0';")
